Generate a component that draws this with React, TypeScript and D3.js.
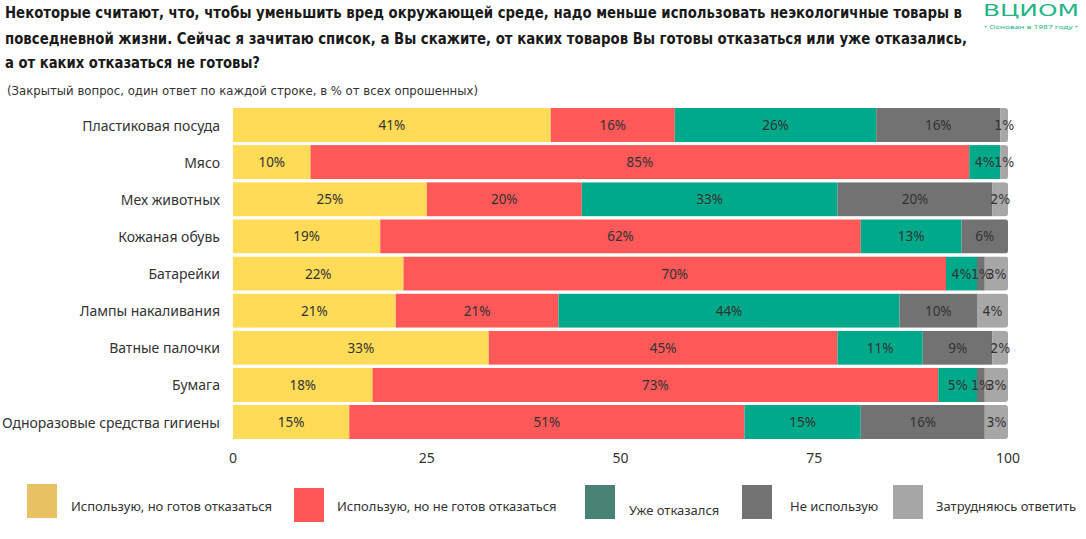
import React from "react";
import * as d3 from "d3";

const categories = [
  "Пластиковая посуда",
  "Мясо",
  "Мех животных",
  "Кожаная обувь",
  "Батарейки",
  "Лампы накаливания",
  "Ватные палочки",
  "Бумага",
  "Одноразовые средства гигиены",
];

const seriesNames = [
  "Использую, но готов отказаться",
  "Использую, но не готов отказаться",
  "Уже отказался",
  "Не использую",
  "Затрудняюсь ответить",
];

const readyToGiveUp = [41, 10, 25, 19, 22, 21, 33, 18, 15];
const notReady = [16, 85, 20, 62, 70, 21, 45, 73, 51];
const alreadyGaveUp = [26, 4, 33, 13, 4, 44, 11, 5, 15];
const dontUse = [16, 0, 20, 6, 1, 10, 9, 1, 16];
const hardToSay = [1, 1, 2, 0, 3, 4, 2, 3, 3];

const xTicks = [0, 25, 50, 75, 100];

const barColors = ["#FFDB58", "#FF5858", "#00A98A", "#727272", "#A7A7A7"];
const legendColors = ["#E8C262", "#FF5757", "#4A8276", "#737373", "#A6A6A6"];

const titleLines = [
  "Некоторые считают, что, чтобы уменьшить вред окружающей среде, надо меньше использовать неэкологичные товары в",
  "повседневной жизни. Сейчас я зачитаю список, а Вы скажите, от каких товаров Вы готовы отказаться или уже отказались,",
  "а от каких отказаться не готовы?",
];

export default function App() {
  const W = 1086;
  const H = 539;
  const x = d3.scaleLinear().domain([0, 100]).range([233, 1008]);
  const y = d3
    .scaleBand<string>()
    .domain(categories)
    .range([106.5, 440.6])
    .paddingInner(0.08)
    .paddingOuter(0.04);

  const table = categories.map((c, i) => ({
    cat: c,
    s0: readyToGiveUp[i],
    s1: notReady[i],
    s2: alreadyGaveUp[i],
    s3: dontUse[i],
    s4: hardToSay[i],
  }));
  const keys = ["s0", "s1", "s2", "s3", "s4"];
  const stacked = d3.stack<any>().keys(keys)(table);

  const font = "'Noto Sans', 'DejaVu Sans', sans-serif";
  const narrowFont = "'Liberation Sans Narrow', 'DejaVu Sans Condensed', 'Noto Sans', sans-serif";
  const titleFont = "'Liberation Sans Narrow', 'DejaVu Sans Condensed', 'Roboto', sans-serif";

  const titleWidths = [957, 962, 255];
  const titleY = [12, 38, 62];

  const legendItems = [
    { bx: 27, by: 484, tx: 71, ty: 506 },
    { bx: 294, by: 488, tx: 337, ty: 506 },
    { bx: 585, by: 485, tx: 629, ty: 510 },
    { bx: 742, by: 485, tx: 790, ty: 506 },
    { bx: 893, by: 485, tx: 936, ty: 506 },
  ];

  return (
    <svg width={W} height={H} style={{ position: "absolute", left: 0, top: 0, background: "#fff" }}>
      <defs>
        {table.map((d, i) => {
          const total = keys.reduce((a, k) => a + (d as any)[k], 0);
          return (
            <clipPath id={`clip${i}`} key={i}>
              <rect
                x={x(0) - 10}
                y={y(d.cat)!}
                width={x(total) - x(0) + 10}
                height={y.bandwidth()}
                rx={3}
              />
            </clipPath>
          );
        })}
      </defs>

      {titleLines.map((t, i) => (
        <text
          key={i}
          x={5}
          y={titleY[i]}
          dominantBaseline="central"
          fontFamily={titleFont}
          fontWeight="bold"
          fontSize={16}
          fill="#1a1a1a"
          textLength={titleWidths[i]}
          lengthAdjust="spacingAndGlyphs"
        >
          {t}
        </text>
      ))}
      <text
        x={7}
        y={90}
        dominantBaseline="central"
        fontFamily={titleFont}
        fontSize={13}
        fill="#333"
        textLength={471}
        lengthAdjust="spacingAndGlyphs"
      >
        (Закрытый вопрос, один ответ по каждой строке, в % от всех опрошенных)
      </text>

      {/* Logo */}
      <text
        x={983}
        y={10}
        dominantBaseline="central"
        fontFamily="'DejaVu Sans', sans-serif"
        fontSize={16}
        fill="#22B487"
        textLength={96}
        lengthAdjust="spacingAndGlyphs"
      >
        ВЦИОМ
      </text>
      <text
        x={984}
        y={27}
        dominantBaseline="central"
        fontFamily={font}
        fontSize={6}
        fill="#22B487"
        textLength={94}
        lengthAdjust="spacingAndGlyphs"
      >
        • Основан в 1987 году •
      </text>

      {/* Bars */}
      {table.map((d, i) => (
        <g key={d.cat} clipPath={`url(#clip${i})`}>
          {stacked.map((s, si) => {
            const seg = s[i];
            const v = seg[1] - seg[0];
            if (v <= 0) return null;
            return (
              <rect
                key={si}
                x={x(seg[0])}
                y={y(d.cat)!}
                width={x(seg[1]) - x(seg[0])}
                height={y.bandwidth()}
                fill={barColors[si]}
              />
            );
          })}
        </g>
      ))}

      {/* Value labels */}
      {table.map((d, i) =>
        stacked.map((s, si) => {
          const seg = s[i];
          const v = seg[1] - seg[0];
          if (v <= 0) return null;
          return (
            <text
              key={`${i}-${si}`}
              x={(x(seg[0]) + x(seg[1])) / 2}
              y={y(d.cat)! + y.bandwidth() / 2}
              textAnchor="middle"
              dominantBaseline="central"
              fontFamily={v <= 5 ? narrowFont : font}
              fontSize={v <= 5 ? 14 : 13.5}
              fill="#333"
            >
              {v}%
            </text>
          );
        })
      )}

      {/* Category labels */}
      {categories.map((c) => (
        <text
          key={c}
          x={220}
          y={y(c)! + y.bandwidth() / 2}
          textAnchor="end"
          dominantBaseline="central"
          fontFamily={font}
          fontSize={14}
          fill="#333"
        >
          {c}
        </text>
      ))}

      {/* X axis tick labels */}
      {xTicks.map((t) => (
        <text
          key={t}
          x={x(t)}
          y={457}
          textAnchor="middle"
          dominantBaseline="central"
          fontFamily={font}
          fontSize={14}
          fill="#333"
        >
          {t}
        </text>
      ))}

      {/* Legend */}
      {seriesNames.map((n, i) => {
        const li = legendItems[i];
        return (
          <g key={n}>
            <rect x={li.bx} y={li.by} width={30} height={34} fill={legendColors[i]} />
            <text
              x={li.tx}
              y={li.ty}
              dominantBaseline="central"
              fontFamily={font}
              fontSize={13}
              fill="#333"
            >
              {n}
            </text>
          </g>
        );
      })}
    </svg>
  );
}
